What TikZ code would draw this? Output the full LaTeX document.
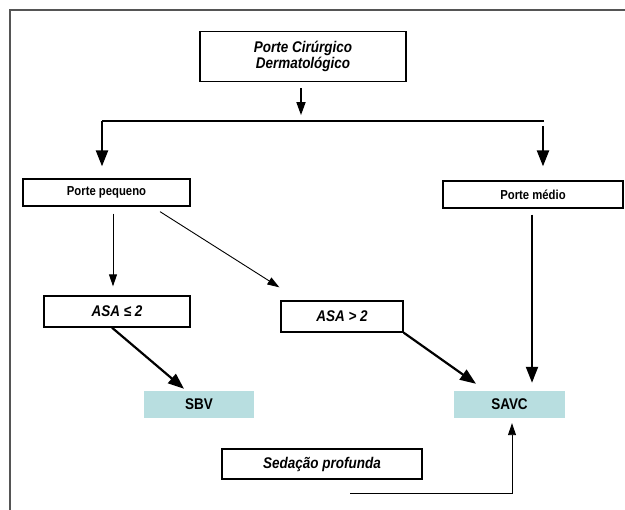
\documentclass[tikz,border=0pt]{standalone}
\usepackage{fontspec}
\setmainfont{Liberation Sans}[FakeStretch=0.87]
\usetikzlibrary{arrows.meta,calc}
\definecolor{boxblue}{HTML}{B8DEE0}
\definecolor{framegray}{HTML}{555555}
\begin{document}
\begin{tikzpicture}[x=1pt,y=-1pt,
  box/.style={draw, line width=1.3pt, inner sep=0pt, align=center,
    font=\bfseries\itshape\fontsize{15.5}{16.5}\selectfont},
  smallbox/.style={draw, line width=1.3pt, inner sep=0pt, align=center,
    font=\bfseries\fontsize{13}{15}\selectfont},
  fillbox/.style={fill=boxblue, inner sep=0pt, align=center,
    font=\bfseries\fontsize{15.5}{17}\selectfont},
  bigarrow/.style={line width=2.2pt, -{Triangle[length=16pt,width=12pt]}},
  midarrow/.style={line width=1.6pt, -{Triangle[length=13pt,width=9pt]}},
  thinarrow/.style={line width=0.9pt, -{Triangle[length=12pt,width=8pt]}},
]
\useasboundingbox (0,0) rectangle (625,510);
\draw[line width=2pt, framegray] (10,510) -- (10,10) -- (625,10);

\node[box, minimum width=206pt, minimum height=50pt] (top) at (303,56.5)
  {Porte Cirúrgico\\Dermatológico};
\node[smallbox, minimum width=167pt, minimum height=27pt] (pp) at (106.5,192.5) {Porte pequeno};
\node[smallbox, minimum width=180pt, minimum height=27pt] (pm) at (533,194.5) {Porte médio};
\node[box, minimum width=146pt, minimum height=31pt] (asa1) at (117,311.5) {ASA ≤ 2};
\node[box, minimum width=122pt, minimum height=31pt] (asa2) at (342,316.5) {ASA > 2};
\node[fillbox, minimum width=110pt, minimum height=27pt] (sbv) at (199,404.5) {SBV};
\node[fillbox, minimum width=111pt, minimum height=27pt] (savc) at (509.5,404.5) {SAVC};
\node[box, minimum width=200pt, minimum height=30pt] (sed) at (322,464) {Sedação profunda};

% top split
\coordinate (t0) at ($(top.south)+(-2,6)$);
\coordinate (t1) at ($(top.south)+(-2,33)$);
\coordinate (hl) at (102,121);
\coordinate (hr) at (544,121);
\coordinate (r0) at (543,126);
\coordinate (ltip) at ($(pp.north -| hl)+(0,-12)$);
\coordinate (rtip) at ($(pm.north -| r0)+(0,-14)$);
\draw[midarrow] (t0) -- (t1);
\draw[line width=1.4pt] (hl) -- (hr);
\draw[bigarrow] (hl) -- (ltip);
\draw[bigarrow] (r0) -- (rtip);

% porte pequeno branches
\coordinate (p0) at ($(pp.south)+(6.5,7)$);
\coordinate (p1) at ($(asa1.north -| p0)+(0,-9)$);
\draw[thinarrow] (p0) -- (p1);
\coordinate (d0) at ($(pp.south)+(53.5,5)$);
\coordinate (d1) at ($(asa2.north west)+(-1,-13)$);
\draw[thinarrow] (d0) -- (d1);

% to SBV / SAVC
\coordinate (a0) at ($(asa1.south)+(-5,0)$);
\coordinate (a1) at ($(sbv.north)+(-15,-2)$);
\draw[bigarrow] (a0) -- (a1);
\coordinate (b1) at ($(savc.north)+(-33.5,-7)$);
\draw[bigarrow] (asa2.south east) -- (b1);
\coordinate (m0) at ($(pm.south)+(-1,6)$);
\coordinate (m1) at ($(savc.north)+(22.5,-8)$);
\draw[bigarrow] (m0) -- (m1);

% sedação profunda
\coordinate (s0) at ($(sed.south)+(28,14)$);
\coordinate (s1) at ($(savc.south)+(2.5,5)$);
\draw[thinarrow] (s0) -| (s1);
\end{tikzpicture}
\end{document}
